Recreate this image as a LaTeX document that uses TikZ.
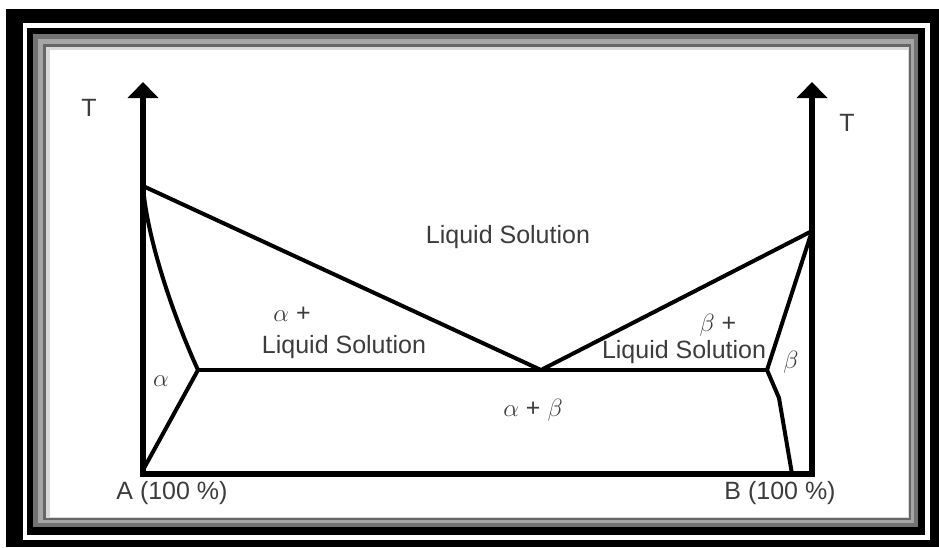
\documentclass[tikz,border=0pt]{standalone}
\usepackage{fontspec}
\setmainfont{Liberation Sans}
\usepackage{tikz}
\usetikzlibrary{arrows.meta}
\definecolor{labelgray}{RGB}{60, 60, 60}

\begin{document}
\begin{tikzpicture}[x=1pt, y=-1pt,
    boundary/.style={line width=4pt, line join=round, line cap=round},
    axisline/.style={line width=6pt, line join=miter},
    lbl/.style={font=\fontsize{25}{30}\selectfont, color=labelgray, inner sep=0pt}]

  \useasboundingbox (0,0) rectangle (939,547);

  % ── Picture frame ───────────────────────────────────────────────────
  \fill[white]    (0,0)   rectangle (939,547);
  \fill[black]    (6,9)   rectangle (939,547);
  \fill[white]    (23,23) rectangle (930,540);
  \fill[black]    (27,28) rectangle (925,535);
  \fill[black!55] (33,34) rectangle (918,527);
  \fill[black!35] (38,39) rectangle (914,523);
  \fill[black!60] (43,44) rectangle (911,520);
  \fill[black!15] (46,47) rectangle (909,518);
  \fill[white]    (50,50) rectangle (908,517);

  % ── Layout ──────────────────────────────────────────────────────────
  \def\xA{143}    % pure A axis
  \def\xB{812}    % pure B axis
  \def\yBase{474} % composition axis
  \def\yTop{82}   % arrow tips
  \def\yEut{370}  % eutectic temperature

  \coordinate (A)        at (\xA,\yBase);
  \coordinate (B)        at (\xB,\yBase);
  \coordinate (Atop)     at (\xA,\yTop);
  \coordinate (Btop)     at (\xB,\yTop);
  \coordinate (meltA)    at (\xA,186);
  \coordinate (meltB)    at (\xB,231);
  \coordinate (eut)      at (541,\yEut);
  \coordinate (alphaMax) at (198,\yEut);
  \coordinate (betaMax)  at (767,\yEut);
  \coordinate (alphaLow) at (\xA,470);
  \coordinate (betaBend) at (779,398);
  \coordinate (betaLow)  at (792,\yBase);

  % ── Axes ────────────────────────────────────────────────────────────
  \draw[axisline, {Triangle[width=30pt,length=16pt]}-{Triangle[width=30pt,length=16pt]}]
    (Atop) -- (A) -- (B) -- (Btop);

  % ── Liquidus and eutectic line ──────────────────────────────────────
  \draw[boundary] (meltA) -- (eut) -- (meltB);
  \draw[boundary] (alphaMax) -- (betaMax);

  % ── alpha solidus / solvus ──────────────────────────────────────────
  \draw[boundary] (meltA) .. controls (147,240) and (175,320) .. (alphaMax)
    -- (alphaLow);

  % ── beta solidus / solvus ───────────────────────────────────────────
  \draw[boundary] (meltB) -- (betaMax) -- (betaBend) -- (betaLow);

  % ── Phase labels ────────────────────────────────────────────────────
  \node[lbl] (liqTop)    at (508,237) {Liquid Solution};
  \node[lbl] (alphaPlus) at (292,314) {$\alpha$ +};
  \node[lbl] (liqAlpha)  at (344,347) {Liquid Solution};
  \node[lbl] (betaPlus)  at (718,325) {$\beta$ +};
  \node[lbl] (liqBeta)   at (684,352) {Liquid Solution};
  \node[lbl] (alphaLbl)  at (161,381) {$\alpha$};
  \node[lbl] (betaLbl)   at (791,362) {$\beta$};
  \node[lbl] (alphaBeta) at (533,410) {$\alpha$ + $\beta$};

  % ── Axis labels ─────────────────────────────────────────────────────
  \node[lbl] (labelA) at (172,493) {A (100 \%)};
  \node[lbl] (labelB) at (780,493) {B (100 \%)};
  \node[lbl] (Tleft)  at (89,108)  {T};
  \node[lbl] (Tright) at (847,123) {T};

\end{tikzpicture}
\end{document}
